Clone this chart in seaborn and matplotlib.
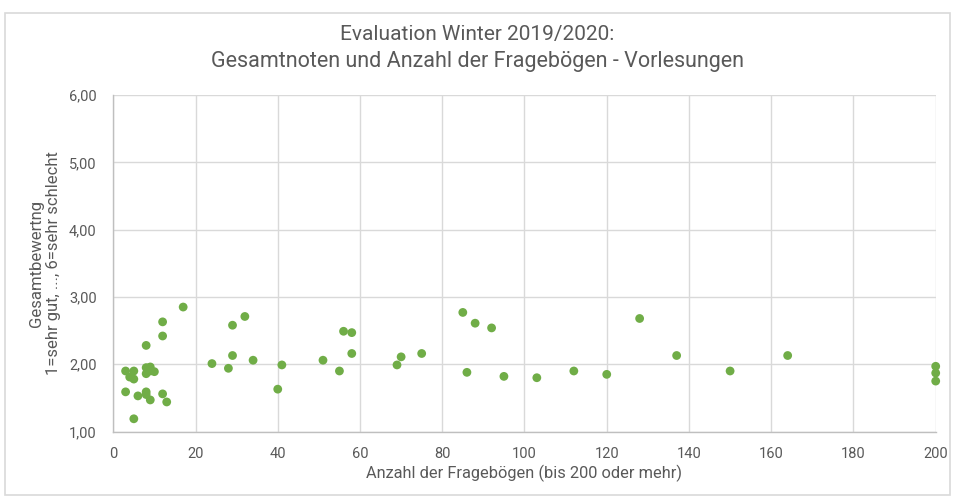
import numpy as np
import pandas as pd
import matplotlib
matplotlib.use("Agg")
import matplotlib.pyplot as plt
from matplotlib.ticker import FuncFormatter, MultipleLocator
from matplotlib.patches import Rectangle
import seaborn as sns

# Anzahl Fragebögen (x) und Gesamtnote (y)
anzahl = [17, 12, 12, 8, 3, 5, 4, 5, 8, 9, 8, 10, 9,
          3, 6, 8, 8, 9, 12, 13, 5,
          24, 32, 29, 29, 28, 34, 41, 40,
          51, 55, 56, 58, 58, 69, 70, 75,
          85, 88, 92, 86, 95, 103, 112, 120, 128, 137, 150, 164,
          200, 200, 200]
note = [2.85, 2.63, 2.42, 2.28, 1.90, 1.90, 1.81, 1.78, 1.95, 1.96, 1.86, 1.89, 1.90,
        1.59, 1.53, 1.59, 1.55, 1.47, 1.56, 1.44, 1.19,
        2.01, 2.71, 2.58, 2.13, 1.94, 2.06, 1.99, 1.63,
        2.06, 1.90, 2.49, 2.47, 2.16, 1.99, 2.11, 2.16,
        2.77, 2.61, 2.54, 1.88, 1.82, 1.80, 1.90, 1.85, 2.68, 2.13, 1.90, 2.13,
        1.97, 1.87, 1.75]

df = pd.DataFrame({"anzahl": anzahl, "note": note})

sns.set_style("white")
plt.rcParams['font.family'] = ['Roboto', 'DejaVu Sans']

grau = "#595959"
fig = plt.figure(figsize=(9.55, 5.04), dpi=100)
ax = fig.add_axes([0.1186, 0.1437, 0.8612, 0.6678])

sns.scatterplot(x="anzahl", y="note", data=df, color="#70AD47", s=40,
                edgecolor="none", ax=ax, zorder=3, clip_on=False)

ax.set_xlim(0, 200)
ax.set_ylim(1, 6)
ax.xaxis.set_major_locator(MultipleLocator(20))
ax.yaxis.set_major_locator(MultipleLocator(1))
ax.yaxis.set_major_formatter(FuncFormatter(lambda v, p: f"{v:.2f}".replace(".", ",")))
ax.grid(True, color="#D9D9D9", linewidth=1)
ax.set_axisbelow(True)
for s in ["top", "right"]:
    ax.spines[s].set_visible(False)
for s in ["left", "bottom"]:
    ax.spines[s].set_color("#BFBFBF")
    ax.spines[s].set_linewidth(1)
ax.tick_params(axis="both", length=0, colors=grau, labelsize=10.5)
ax.tick_params(axis="y", pad=12)
ax.tick_params(axis="x", pad=11)

ax.set_xlabel("Anzahl der Fragebögen (bis 200 oder mehr)", color=grau, fontsize=11.8, labelpad=3)
ax.set_ylabel("Gesamtbewertng\n1=sehr gut, ..., 6=sehr schlecht", color=grau, fontsize=12,
              labelpad=6, linespacing=1.1)

fig.text(0.5, 0.931, "Evaluation Winter 2019/2020:", ha="center", va="center",
         color=grau, fontsize=15)
fig.text(0.5, 0.877, "Gesamtnoten und Anzahl der Fragebögen - Vorlesungen", ha="center",
         va="center", color=grau, fontsize=15.5)

fig.patches.append(Rectangle((0.005, 0.018), 0.99, 0.957, transform=fig.transFigure,
                             fill=False, edgecolor="#D9D9D9", linewidth=1.2))

fig.savefig("out.png", dpi=100)
